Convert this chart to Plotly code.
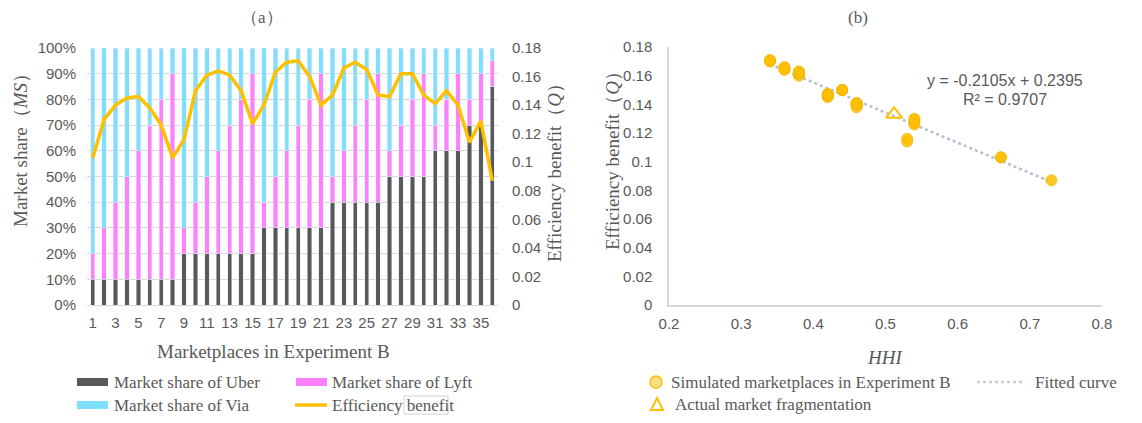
import plotly.graph_objects as go

# ---------------- data ----------------
marketplaces = list(range(1, 37))
uber_share = [10, 10, 10, 10, 10, 10, 10, 10,
              20, 20, 20, 20, 20, 20, 20,
              30, 30, 30, 30, 30, 30,
              40, 40, 40, 40, 40,
              50, 50, 50, 50,
              60, 60, 60,
              70, 70,
              85]
lyft_share = [10, 20, 30, 40, 50, 60, 70, 80,
              10, 20, 30, 40, 50, 60, 70,
              10, 20, 30, 40, 50, 60,
              10, 20, 30, 40, 50,
              10, 20, 30, 40,
              10, 20, 30,
              10, 20,
              10]
via_share = [80, 70, 60, 50, 40, 30, 20, 10,
             70, 60, 50, 40, 30, 20, 10,
             60, 50, 40, 30, 20, 10,
             50, 40, 30, 20, 10,
             40, 30, 20, 10,
             30, 20, 10,
             20, 10,
             5]
efficiency = [0.103, 0.130, 0.140, 0.145, 0.146, 0.138, 0.126, 0.103,
              0.116, 0.150, 0.161, 0.164, 0.161, 0.150, 0.127,
              0.140, 0.163, 0.170, 0.171, 0.160, 0.140,
              0.147, 0.166, 0.170, 0.165, 0.147,
              0.146, 0.162, 0.162, 0.147,
              0.141, 0.150, 0.140,
              0.114, 0.129,
              0.087]
hhi = [0.66, 0.54, 0.46, 0.42, 0.42, 0.46, 0.54, 0.66,
       0.53, 0.44, 0.38, 0.36, 0.38, 0.44, 0.54,
       0.46, 0.38, 0.34, 0.34, 0.38, 0.46,
       0.42, 0.36, 0.34, 0.36, 0.42,
       0.42, 0.38, 0.38, 0.42,
       0.46, 0.44, 0.46,
       0.53, 0.54,
       0.73]
actual_hhi = [0.512]
actual_q = [0.133]
fit_slope = -0.2105
fit_intercept = 0.2395
fit_r2 = 0.9707
fit_x = [0.34, 0.73]

x_ticks_a = list(range(1, 37, 2))
y_ticks_ms = [0, 10, 20, 30, 40, 50, 60, 70, 80, 90, 100]
y_ticks_q = [0, 0.02, 0.04, 0.06, 0.08, 0.1, 0.12, 0.14, 0.16, 0.18]
x_ticks_hhi = [0.2, 0.3, 0.4, 0.5, 0.6, 0.7, 0.8]

# ---------------- style ----------------
# page body has an 8px margin; figure is sized to fit the window inside it
OFF = 8
W, H = 1142 - 2 * OFF, 423 - 2 * OFF
GREY = "#595959"
SANS = "Liberation Sans, Arial, sans-serif"
SERIF = "Liberation Serif, Times New Roman, serif"
C_UBER = "#595959"
C_LYFT = "#FF80FF"
C_VIA = "#80DFFF"
C_LINE = "#FFC000"
C_FIT = "#B4BFD0"

def px(x):
    return (x - OFF) / W

def py(y):
    return 1 - (y - OFF) / H

fig = go.Figure()

fig.add_trace(go.Bar(x=marketplaces, y=uber_share, marker_color=C_UBER,
                     name="Market share of Uber", xaxis="x", yaxis="y"))
fig.add_trace(go.Bar(x=marketplaces, y=lyft_share, marker_color=C_LYFT,
                     name="Market share of Lyft", xaxis="x", yaxis="y"))
fig.add_trace(go.Bar(x=marketplaces, y=via_share, marker_color=C_VIA,
                     name="Market share of Via", xaxis="x", yaxis="y"))
fig.add_trace(go.Scatter(x=marketplaces, y=efficiency, mode="lines",
                         line=dict(color=C_LINE, width=3.5),
                         name="Efficiency benefit", xaxis="x", yaxis="y2"))

# panel b
fit_y = [fit_slope * v + fit_intercept for v in fit_x]
fig.add_trace(go.Scatter(x=fit_x, y=fit_y, mode="lines",
                         line=dict(color=C_FIT, width=2.5, dash="dot"),
                         name="Fitted curve", xaxis="x2", yaxis="y3"))
fig.add_trace(go.Scatter(x=hhi, y=efficiency, mode="markers",
                         marker=dict(color=C_LINE, size=11, opacity=0.85,
                                     line=dict(color="#F5B800", width=1)),
                         name="Simulated marketplaces in Experiment B",
                         xaxis="x2", yaxis="y3"))
fig.add_trace(go.Scatter(x=actual_hhi, y=actual_q, mode="markers",
                         marker=dict(symbol="triangle-up-open", color=C_LINE,
                                     size=14, line=dict(color=C_LINE, width=2)),
                         name="Actual market fragmentation",
                         xaxis="x2", yaxis="y3"))

tickfont = dict(family=SANS, size=15, color=GREY)

fig.update_layout(
    width=W, height=H,
    margin=dict(l=0, r=0, t=0, b=0, autoexpand=False),
    paper_bgcolor="white", plot_bgcolor="white",
    showlegend=False,
    barmode="stack", bargap=0.62,
    xaxis=dict(domain=[px(87), px(498)], range=[0.5, 36.5],
               tickvals=x_ticks_a, ticktext=[str(v) for v in x_ticks_a],
               tickfont=tickfont, showgrid=False, zeroline=False,
               showline=True, linecolor="#D9D9D9", linewidth=1,
               ticks="", ticklabelstandoff=4, anchor="y", automargin=False),
    yaxis=dict(domain=[py(305), py(48)], range=[0, 100],
               tickvals=y_ticks_ms, ticktext=[f"{v}%" for v in y_ticks_ms],
               tickfont=tickfont, showgrid=True, gridcolor="#D9D9D9",
               gridwidth=1, zeroline=False, ticks="", ticklabelstandoff=10,
               anchor="x", automargin=False),
    yaxis2=dict(overlaying="y", side="right", range=[0, 0.18],
                tickvals=y_ticks_q, ticktext=[f"{v:g}" for v in y_ticks_q],
                tickfont=tickfont, showgrid=False, zeroline=False,
                ticks="", ticklabelstandoff=13, anchor="x", automargin=False),
    xaxis2=dict(domain=[px(669), px(1102)], range=[0.2, 0.8],
                tickvals=x_ticks_hhi, ticktext=[f"{v:g}" for v in x_ticks_hhi],
                tickfont=tickfont, showgrid=False, zeroline=False,
                showline=True, linecolor="#D9D9D9", linewidth=1.5,
                ticks="", ticklabelstandoff=4, anchor="y3", automargin=False),
    yaxis3=dict(domain=[py(305), py(47)], range=[0, 0.18],
                tickvals=y_ticks_q, ticktext=[f"{v:g}" for v in y_ticks_q],
                tickfont=tickfont, showgrid=False, zeroline=False,
                showline=True, linecolor="#D9D9D9", linewidth=1.5,
                ticks="", ticklabelstandoff=12, anchor="x2", automargin=False),
)

ann = []
def text(x, y, s, size=17, family=SERIF, xanchor="left", angle=0, color=GREY):
    ann.append(dict(x=px(x), y=py(y), xref="paper", yref="paper", text=s,
                    showarrow=False, xanchor=xanchor, yanchor="middle",
                    textangle=angle, font=dict(family=family, size=size, color=color)))

text(262, 17, "（a）", size=17, xanchor="center")
text(858, 17, "(b)", size=17, xanchor="center")
text(273, 351, "Marketplaces in Experiment B", size=19, xanchor="center")
text(20, 146, "Market share（<i>MS</i>）", size=19, xanchor="center", angle=-90)
text(555, 168, "Efficiency benefit（<i>Q</i>）", size=19, xanchor="center", angle=-90)
text(612, 156, "Efficiency benefit（<i>Q</i>）", size=19, xanchor="center", angle=-90)
text(885, 357, "<i>HHI</i>", size=19, xanchor="center")
text(1005, 80, "y = -0.2105x + 0.2395", size=16, family=SANS, xanchor="center")
text(1005, 100, f"R² = {fit_r2}", size=16, family=SANS, xanchor="center")

# legend (a)
text(112, 382, "Market share of Uber")
text(330, 382, "Market share of Lyft")
text(112, 405, "Market share of Via")
text(330, 405, "Efficiency benefit")
# legend (b)
text(669, 382, "Simulated marketplaces in Experiment B")
text(1033, 382, "Fitted curve")
text(673, 404, "Actual market fragmentation")
fig.update_layout(annotations=ann)

shapes = []
def rect(x0, y0, x1, y1, fill, line=None):
    shapes.append(dict(type="rect", xref="paper", yref="paper",
                       x0=px(x0), x1=px(x1), y0=py(y1), y1=py(y0),
                       fillcolor=fill, line=dict(width=0) if line is None else line))

rect(77, 378, 108, 386, C_UBER)
rect(296, 378, 327, 386, C_LYFT)
rect(77, 401, 108, 409, C_VIA)
shapes.append(dict(type="line", xref="paper", yref="paper",
                   x0=px(295), x1=px(327), y0=py(405), y1=py(405),
                   line=dict(color=C_LINE, width=3.5)))
rect(404, 396, 448, 414, "rgba(0,0,0,0)", line=dict(color="#D0D0D0", width=1))
# legend (b) symbols
shapes.append(dict(type="circle", xref="paper", yref="paper",
                   x0=px(650), x1=px(662), y0=py(388), y1=py(376),
                   fillcolor="#FFE08A", line=dict(color=C_LINE, width=1.5)))
shapes.append(dict(type="path", xref="paper", yref="paper",
                   path=f"M {px(651)} {py(410)} L {px(663)} {py(410)} L {px(657)} {py(398)} Z",
                   fillcolor="rgba(0,0,0,0)", line=dict(color=C_LINE, width=2)))
shapes.append(dict(type="line", xref="paper", yref="paper",
                   x0=px(977), x1=px(1023), y0=py(382), y1=py(382),
                   line=dict(color="#C8CCD4", width=2.5, dash="dot")))
fig.update_layout(shapes=shapes)

fig.write_html("out.html")
